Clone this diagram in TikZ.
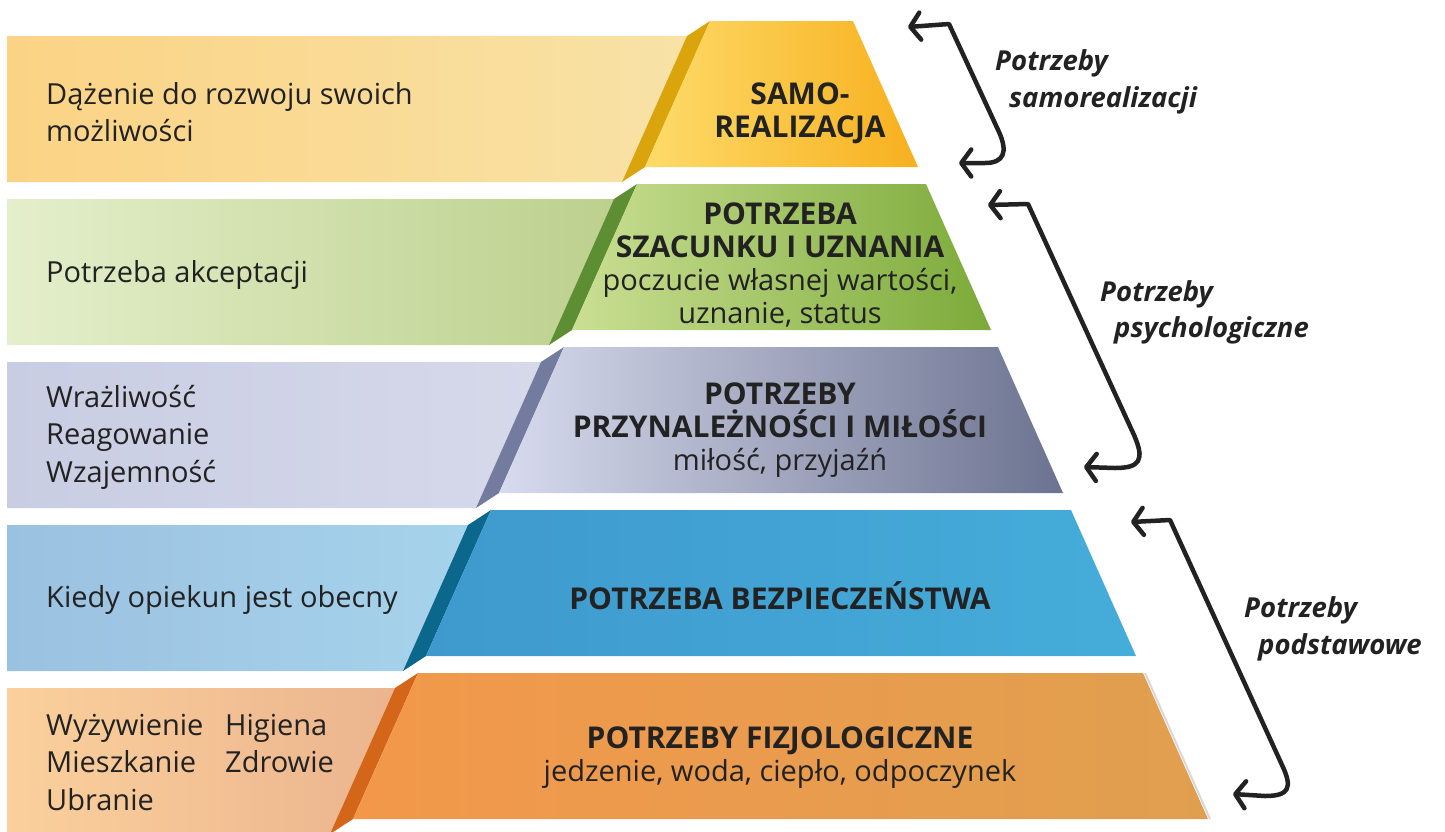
\documentclass[tikz,border=0pt]{standalone}
\usepackage{fontspec}
\setmainfont{Open Sans}
\usetikzlibrary{arrows.meta}
\definecolor{txt}{HTML}{222222}
\definecolor{bandA1}{HTML}{FBD385}\definecolor{bandB1}{HTML}{F8E2A6}
\definecolor{bev1}{HTML}{D9A40C}
\definecolor{faceA1}{HTML}{FDDB6A}\definecolor{faceM1}{HTML}{FFC80C}\definecolor{faceB1}{HTML}{F7B01E}
\definecolor{bandA2}{HTML}{E4EFCB}\definecolor{bandB2}{HTML}{BDD08D}
\definecolor{bev2}{HTML}{5E8E33}
\definecolor{faceA2}{HTML}{CADF93}\definecolor{faceB2}{HTML}{7CAA39}
\definecolor{bandA3}{HTML}{C9CDE3}\definecolor{bandB3}{HTML}{D6D9EA}
\definecolor{bev3}{HTML}{737B9E}
\definecolor{faceA3}{HTML}{D8DBEE}\definecolor{faceM3}{HTML}{B0B5D0}\definecolor{faceB3}{HTML}{6C7390}
\definecolor{bandA4}{HTML}{9BC1E0}\definecolor{bandB4}{HTML}{A6D3EC}
\definecolor{bev4}{HTML}{0B678C}
\definecolor{faceA4}{HTML}{3F99CD}\definecolor{faceB4}{HTML}{45ADDA}
\definecolor{bandA5}{HTML}{FBD09C}\definecolor{bandB5}{HTML}{EBB48E}
\definecolor{bev5}{HTML}{D4661A}
\definecolor{faceA5}{HTML}{F3984B}\definecolor{faceM5}{HTML}{F2AB50}\definecolor{faceB5}{HTML}{E09F4F}
\definecolor{edge5}{HTML}{D8D8D8}
\tikzset{
  lefttext/.style={anchor=west,align=left,text=txt,font=\fontsize{29}{37.5}\selectfont,inner sep=0pt},
  facetext/.style={align=center,text=txt,inner sep=0pt,font=\fontsize{29}{33}\selectfont},
  sidetext/.style={align=left,text=txt,font=\fontsize{27.5}{37}\selectfont\bfseries\itshape,inner sep=0pt,anchor=west},
  barb/.tip={Straight Barb[length=10pt,width=27pt,line cap=round,line join=round]},
  brk/.style={draw=txt,line cap=round,line join=round,barb-barb},
}
\newcommand{\ttl}{\bfseries\fontsize{30}{33}\selectfont}
\newcommand{\sub}{\fontsize{29}{33}\selectfont}
\begin{document}
\lineskiplimit=-100pt
\begin{tikzpicture}[x=1pt,y=-1pt]
\useasboundingbox (0,0) rectangle (1445,831);
% ---------- layer 1 ----------
\shade[left color=bandA1,right color=bandB1] (7,36) -- (687,36) -- (622,182) -- (7,182) -- cycle;
\fill[bev1] (710,21) -- (645,167) -- (622,182) -- (687,36) -- cycle;
\shade[left color=faceA1,middle color=faceM1,right color=faceB1] (710,21) -- (853,21) -- (918,167) -- (645,167) -- cycle;
% ---------- layer 2 ----------
\shade[left color=bandA2,right color=bandB2] (7,199) -- (614,199) -- (549,345) -- (7,345) -- cycle;
\fill[bev2] (637,184) -- (572,330) -- (549,345) -- (614,199) -- cycle;
\shade[left color=faceA2,right color=faceB2] (637,184) -- (926,184) -- (991,330) -- (572,330) -- cycle;
% ---------- layer 3 ----------
\shade[left color=bandA3,right color=bandB3] (7,362) -- (541,362) -- (476,508) -- (7,508) -- cycle;
\fill[bev3] (564,347) -- (499,493) -- (476,508) -- (541,362) -- cycle;
\shade[left color=faceA3,middle color=faceM3,right color=faceB3] (564,347) -- (998,347) -- (1063,493) -- (499,493) -- cycle;
% ---------- layer 4 ----------
\shade[left color=bandA4,right color=bandB4] (7,525) -- (468,525) -- (403,671) -- (7,671) -- cycle;
\fill[bev4] (491,510) -- (426,656) -- (403,671) -- (468,525) -- cycle;
\shade[left color=faceA4,right color=faceB4] (491,510) -- (1071,510) -- (1136,656) -- (426,656) -- cycle;
% ---------- layer 5 ----------
\shade[left color=bandA5,right color=bandB5] (7,688) -- (395,688) -- (330,834) -- (7,834) -- cycle;
\fill[bev5] (418,673) -- (353,819) -- (330,834) -- (395,688) -- cycle;
\draw[edge5,line width=2pt] (1145,673) -- (1210,819);
\shade[left color=faceA5,middle color=faceM5,right color=faceB5] (418,673) -- (1143,673) -- (1208,819) -- (353,819) -- cycle;
% ---------- pyramid texts ----------
\node[facetext,font=\ttl] (f1) at (800,113) {SAMO-\\REALIZACJA};
\node[facetext] (f2) at (780,265) {{\ttl POTRZEBA}\\{\ttl SZACUNKU I UZNANIA}\\{\sub poczucie własnej wartości,}\\{\sub uznanie, status}};
\node[facetext] (f3) at (780,430) {{\ttl POTRZEBY}\\{\ttl PRZYNALEŻNOŚCI I MIŁOŚCI}\\{\sub miłość, przyjaźń}};
\node[facetext,font=\ttl] (f4) at (780,596) {POTRZEBA BEZPIECZEŃSTWA};
\node[facetext] (f5) at (780,758) {{\ttl POTRZEBY FIZJOLOGICZNE}\\{\sub jedzenie, woda, ciepło, odpoczynek}};
% ---------- left texts ----------
\node[lefttext] (l1) at (46,112) {Dążenie do rozwoju swoich\\możliwości};
\node[lefttext] (l2) at (46,275) {Potrzeba akceptacji};
\node[lefttext] (l3) at (46,437) {Wrażliwość\\Reagowanie\\Wzajemność};
\node[lefttext] (l4) at (46,600) {Kiedy opiekun jest obecny};
\node[lefttext,anchor=north west] (l5a) at (46,714) {Wyżywienie\\Mieszkanie\\Ubranie};
\node[lefttext,anchor=north west] (l5b) at (225,714) {Higiena\\Zdrowie};
% ---------- side labels ----------
\node[sidetext] (s1a) at (995,63) {Potrzeby};
\node[sidetext] (s1b) at (1009,100) {samorealizacji};
\node[sidetext] (s2a) at (1100,294) {Potrzeby};
\node[sidetext] (s2b) at (1114,330) {psychologiczne};
\node[sidetext] (s3a) at (1244,610) {Potrzeby};
\node[sidetext] (s3b) at (1258,647) {podstawowe};
% ---------- brackets ----------
\coordinate (a1s) at (908,27);
\coordinate (a1c) at (949,24);
\coordinate (a1d) at (999,132);
\coordinate (a1e) at (959,163);
\draw[brk,line width=4.5pt] (a1s) -- (a1c) -- (a1d) .. controls (1008,152) and (1004,163) .. (985,163) -- (a1e);
\coordinate (a2s) at (988,205);
\coordinate (a2c) at (1028,204);
\coordinate (a2d) at (1134,435);
\coordinate (a2e) at (1084,467);
\draw[brk,line width=4.5pt] (a2s) -- (a2c) -- (a2d) .. controls (1145,460) and (1140,468) .. (1115,468) -- (a2e);
\coordinate (a3s) at (1131,522);
\coordinate (a3c) at (1170,520);
\coordinate (a3d) at (1282,765);
\coordinate (a3e) at (1233,794);
\draw[brk,line width=4.5pt] (a3s) -- (a3c) -- (a3d) .. controls (1293,788) and (1289,796) .. (1265,796) -- (a3e);
\end{tikzpicture}
\end{document}
